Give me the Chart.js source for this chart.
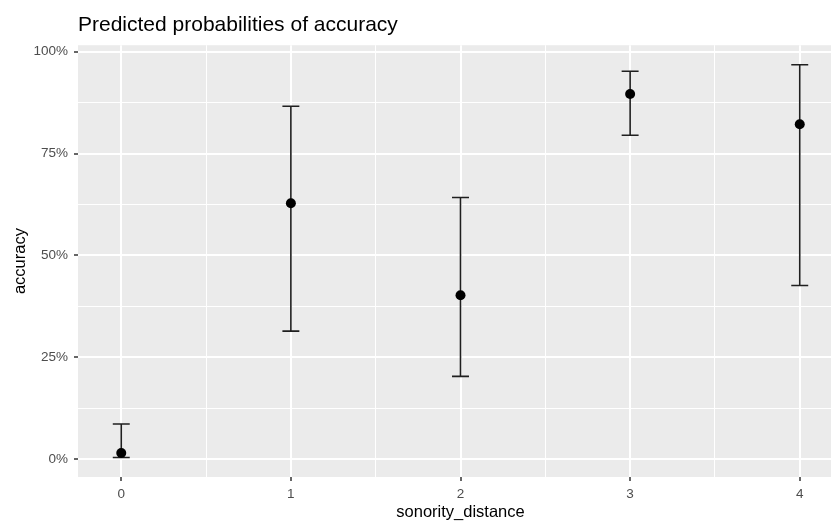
<!DOCTYPE html>
<html>
<head>
<meta charset="utf-8">
<script src="https://cdn.jsdelivr.net/npm/chart.js@4/dist/chart.umd.min.js"></script>
<style>
  html, body { margin: 0; padding: 0; background: #fff; overflow: hidden; }
  #wrap { width: 850px; height: 525px; }
</style>
</head>
<body>
<div id="wrap"><canvas id="probChart" width="850" height="525"></canvas></div>
<script>
// sonority distance levels and predicted accuracy (percent) with CI bounds
const distances = [0, 1, 2, 3, 4];
const predicted = [1.5, 62.8, 40.2, 89.6, 82.2];
const lowerCI = [0.4, 31.4, 20.3, 79.5, 42.6];
const upperCI = [8.6, 86.6, 64.2, 95.2, 96.8];

const xBreaks = [0, 1, 2, 3, 4];
const xMinor = [0.5, 1.5, 2.5, 3.5];
const yBreaks = [0, 25, 50, 75, 100];
const yMinor = [12.5, 37.5, 62.5, 87.5];
const yLabels = ["0%", "25%", "50%", "75%", "100%"];

const FONT = "'Liberation Sans', Arial, sans-serif";
const capHalf = 0.05;

const panelBg = {
    id: "panelBg",
    beforeDraw(chart) {
        const { ctx, chartArea: a } = chart;
        ctx.save();
        ctx.fillStyle = "#EBEBEB";
        ctx.fillRect(a.left, a.top, a.right - a.left, a.bottom - a.top);
        ctx.restore();
    }
};

// whiskers with end caps, drawn under the points
const errorBars = {
    id: "errorBars",
    beforeDatasetsDraw(chart) {
        const { ctx, scales: { x, y } } = chart;
        ctx.save();
        ctx.strokeStyle = "#1f1f1f";
        ctx.lineWidth = 1.6;
        distances.forEach((d, i) => {
            const px = x.getPixelForValue(d);
            const lo = y.getPixelForValue(lowerCI[i]);
            const hi = y.getPixelForValue(upperCI[i]);
            const l = x.getPixelForValue(d - capHalf);
            const r = x.getPixelForValue(d + capHalf);
            ctx.beginPath();
            ctx.moveTo(px, lo); ctx.lineTo(px, hi);
            ctx.moveTo(l, hi); ctx.lineTo(r, hi);
            ctx.moveTo(l, lo); ctx.lineTo(r, lo);
            ctx.stroke();
        });
        ctx.restore();
    }
};

const isMajorX = v => xBreaks.includes(v);
const isMajorY = v => yBreaks.includes(v);

new Chart(document.getElementById("probChart"), {
    type: "scatter",
    data: {
        datasets: [{
            data: distances.map((d, i) => ({ x: d, y: predicted[i] })),
            backgroundColor: "#000",
            borderWidth: 0,
            pointRadius: 5,
            pointHoverRadius: 5
        }]
    },
    options: {
        responsive: false,
        animation: false,
        layout: { padding: { left: 0, right: 7, top: 0, bottom: 0 } },
        plugins: {
            legend: { display: false },
            tooltip: { enabled: false },
            title: {
                display: true,
                text: "Predicted probabilities of accuracy",
                align: "start",
                fullSize: false,
                color: "#000",
                font: { family: FONT, size: 21, weight: "normal" },
                padding: { top: 13, bottom: 7 }
            }
        },
        scales: {
            x: {
                type: "linear",
                min: -0.255,
                max: 4.255,
                afterBuildTicks: s => { s.ticks = [...xBreaks, ...xMinor].sort((a, b) => a - b).map(v => ({ value: v })); },
                afterFit: s => { s.height = 48; },
                border: { display: false },
                grid: {
                    color: "#FFFFFF",
                    lineWidth: c => isMajorX(c.tick.value) ? 2 : 1,
                    tickLength: 4,
                    tickWidth: 1.5,
                    tickColor: c => isMajorX(c.tick.value) ? "#333333" : "rgba(0,0,0,0)"
                },
                ticks: {
                    autoSkip: false,
                    maxRotation: 0,
                    padding: 5,
                    color: "#4D4D4D",
                    font: { family: FONT, size: 13.5 },
                    callback: v => isMajorX(v) ? String(v) : ""
                },
                title: {
                    display: true,
                    text: "sonority_distance",
                    color: "#000",
                    font: { family: FONT, size: 16.5 },
                    padding: { top: 0, bottom: 3 }
                }
            },
            y: {
                min: -4.4,
                max: 101.6,
                afterBuildTicks: s => { s.ticks = [...yBreaks, ...yMinor].sort((a, b) => a - b).map(v => ({ value: v })); },
                afterFit: s => { s.width = 78; },
                border: { display: false },
                grid: {
                    color: "#FFFFFF",
                    lineWidth: c => isMajorY(c.tick.value) ? 2 : 1,
                    tickLength: 4,
                    tickWidth: 1.5,
                    tickColor: c => isMajorY(c.tick.value) ? "#333333" : "rgba(0,0,0,0)"
                },
                ticks: {
                    autoSkip: false,
                    padding: 6,
                    color: "#4D4D4D",
                    font: { family: FONT, size: 13.5 },
                    callback: v => isMajorY(v) ? yLabels[yBreaks.indexOf(v)] : ""
                },
                title: {
                    display: true,
                    text: "accuracy",
                    color: "#000",
                    font: { family: FONT, size: 16.5 },
                    padding: { top: 11, bottom: 0 }
                }
            }
        }
    },
    plugins: [panelBg, errorBars]
});
</script>
</body>
</html>
